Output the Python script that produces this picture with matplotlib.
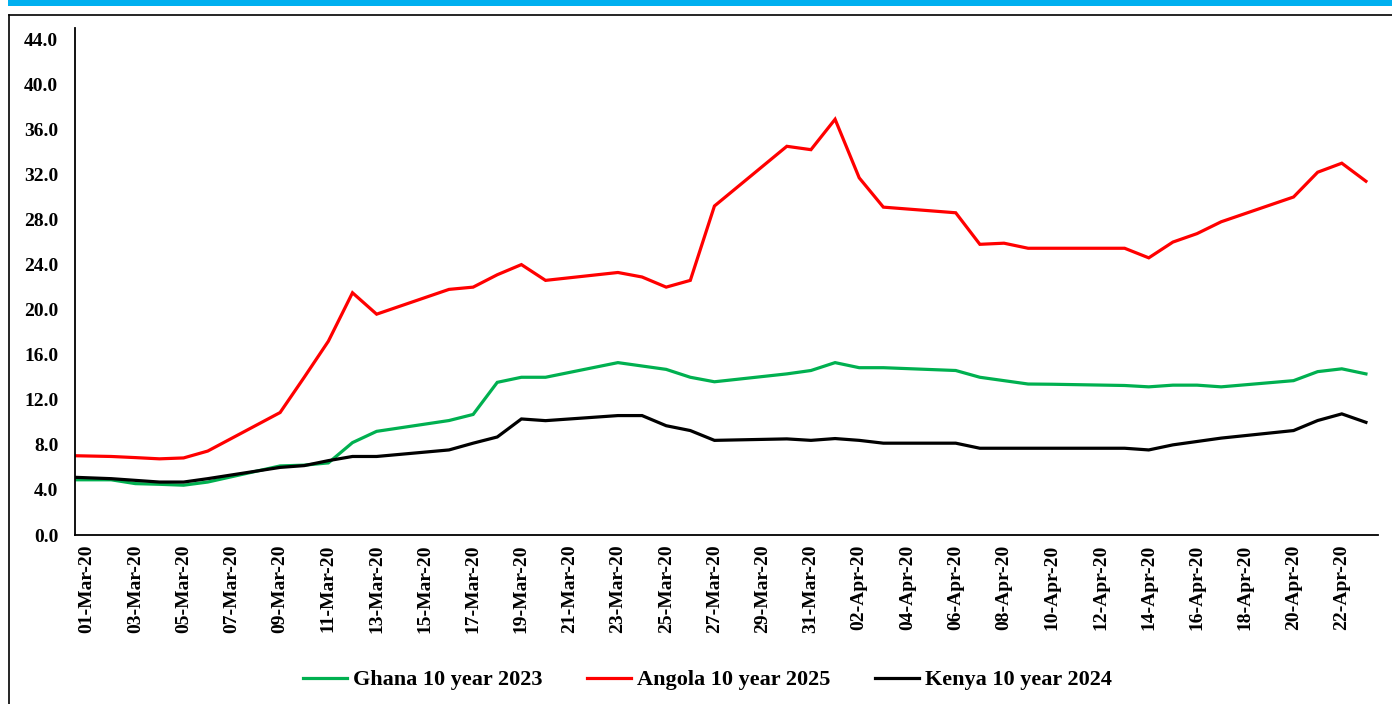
import numpy as np
import pandas as pd
import matplotlib
matplotlib.use("Agg")
import matplotlib.pyplot as plt
import matplotlib.dates as mdates
from matplotlib.lines import Line2D
from matplotlib.patches import Rectangle

# trading days (28-Feb only so the lines run in from the left edge)
dates = ["2020-02-28", "2020-03-02", "2020-03-03", "2020-03-04", "2020-03-05",
         "2020-03-06", "2020-03-09", "2020-03-10", "2020-03-11", "2020-03-12",
         "2020-03-13", "2020-03-16", "2020-03-17", "2020-03-18", "2020-03-19",
         "2020-03-20", "2020-03-23", "2020-03-24", "2020-03-25", "2020-03-26",
         "2020-03-27", "2020-03-30", "2020-03-31", "2020-04-01", "2020-04-02",
         "2020-04-03", "2020-04-06", "2020-04-07", "2020-04-08", "2020-04-09",
         "2020-04-10", "2020-04-13", "2020-04-14", "2020-04-15", "2020-04-16",
         "2020-04-17", "2020-04-20", "2020-04-21", "2020-04-22", "2020-04-23"]

ghana = [4.9, 4.9, 4.56, 4.5, 4.42, 4.7, 6.13, 6.2, 6.4, 8.2,
         9.2, 10.16, 10.7, 13.55, 14.0, 14.0, 15.3, 15.0, 14.7, 14.0,
         13.6, 14.3, 14.6, 15.3, 14.85, 14.85, 14.6, 14.0, 13.7, 13.4,
         13.38, 13.27, 13.15, 13.3, 13.3, 13.15, 13.7, 14.5, 14.75, 14.3]

angola = [7.1, 6.97, 6.87, 6.76, 6.84, 7.45, 10.87, 14.0, 17.2, 21.5,
          19.6, 21.8, 22.0, 23.1, 24.0, 22.6, 23.3, 22.9, 22.0, 22.6,
          29.2, 34.5, 34.2, 36.9, 31.7, 29.1, 28.6, 25.8, 25.9, 25.45,
          25.45, 25.45, 24.6, 26.0, 26.75, 27.8, 30.0, 32.2, 33.0, 31.4]

kenya = [5.24, 5.0, 4.85, 4.7, 4.7, 5.0, 6.0, 6.16, 6.6, 6.97,
         6.97, 7.55, 8.15, 8.7, 10.3, 10.15, 10.6, 10.6, 9.7, 9.27,
         8.4, 8.53, 8.4, 8.56, 8.4, 8.15, 8.15, 7.7, 7.7, 7.7,
         7.7, 7.7, 7.55, 8.0, 8.3, 8.6, 9.27, 10.16, 10.75, 10.0]

labels = ["Ghana 10 year 2023", "Angola 10 year 2025", "Kenya 10 year 2024"]
colors = ["#00B050", "#FF0000", "#000000"]

plt.rcParams["font.family"] = ["Liberation Serif", "DejaVu Serif"]
plt.rcParams["font.weight"] = "bold"

W, H = 1392, 704
fig = plt.figure(figsize=(W / 100, H / 100), dpi=100)

# blue bar and frame round the chart
fig.patches.append(Rectangle((8 / W, 1 - 6 / H), 1 - 8 / W, 6 / H,
                             transform=fig.transFigure, color="#00B0F0", lw=0))
fig.lines.append(Line2D([8.5 / W, 1], [1 - 14.5 / H, 1 - 14.5 / H],
                        transform=fig.transFigure, color="black", lw=1.2))
fig.lines.append(Line2D([8.5 / W, 8.5 / W], [0, 1 - 14.5 / H],
                        transform=fig.transFigure, color="black", lw=1.2))

ax = fig.add_axes([75 / W, (H - 535) / H, (1378 - 75) / W, (535 - 28) / H])

x = pd.to_datetime(dates)
for series, label, color in zip([ghana, angola, kenya], labels, colors):
    ax.plot(x, series, color=color, lw=2.3, label=label, solid_joinstyle="miter")

start = mdates.date2num(pd.Timestamp("2020-03-01"))
end = mdates.date2num(pd.Timestamp("2020-04-23"))
ax.set_xlim(start - 0.5, end + 0.5)
ax.set_ylim(0, 45)

ax.set_yticks(np.arange(0, 45, 4))
ax.yaxis.set_major_formatter(matplotlib.ticker.FormatStrFormatter("%.1f"))
ax.set_xticks(np.arange(start, end + 1, 2))
ax.xaxis.set_major_formatter(mdates.DateFormatter("%d-%b-%y"))

ax.tick_params(axis="both", length=0, labelsize=14)
ax.tick_params(axis="y", pad=12)
ax.tick_params(axis="x", pad=7)
for lab in ax.get_xticklabels():
    lab.set_rotation(90)
    lab.set_fontweight("bold")
for lab in ax.get_yticklabels():
    lab.set_fontweight("bold")

for side in ["top", "right"]:
    ax.spines[side].set_visible(False)
for side in ["left", "bottom"]:
    ax.spines[side].set_linewidth(1.3)
    ax.spines[side].set_color("black")

fig.legend(loc="center", bbox_to_anchor=(0.508, 24 / H), ncol=3, frameon=False,
           prop={"size": 16, "weight": "bold"}, handlelength=2.0,
           handletextpad=0.25, columnspacing=2.0)

fig.savefig("out.png", dpi=100)
